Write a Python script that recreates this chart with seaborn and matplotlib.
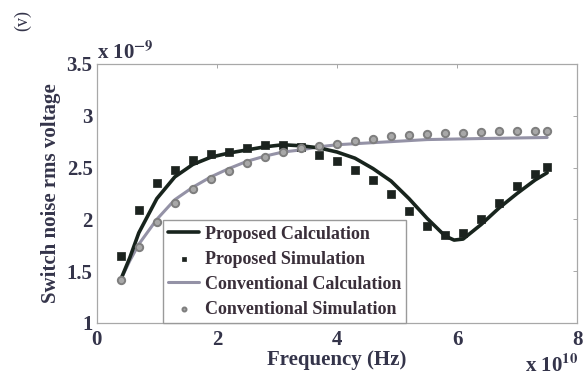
import numpy as np
import pandas as pd
import matplotlib
matplotlib.use("Agg")
import matplotlib.pyplot as plt
import seaborn as sns

# frequency grid of the simulated points (x 1e10 Hz)
freq_sim = [0.4, 0.7, 1.0, 1.3, 1.6, 1.9, 2.2, 2.5, 2.8, 3.1, 3.4, 3.7, 4.0,
            4.3, 4.6, 4.9, 5.2, 5.5, 5.8, 6.1, 6.4, 6.7, 7.0, 7.3, 7.5]
prop_sim = [1.65, 2.09, 2.35, 2.48, 2.57, 2.63, 2.65, 2.69, 2.72, 2.72, 2.70, 2.62, 2.56,
            2.48, 2.375, 2.24, 2.08, 1.94, 1.85, 1.87, 2.00, 2.16, 2.32, 2.44, 2.51]
conv_sim = [1.41, 1.73, 1.97, 2.16, 2.29, 2.39, 2.47, 2.54, 2.60, 2.65, 2.69, 2.71, 2.73,
            2.76, 2.78, 2.80, 2.81, 2.82, 2.83, 2.83, 2.84, 2.85, 2.85, 2.85, 2.85]

# calculated curves (x 1e10 Hz, x 1e-9 V)
freq_prop = [0.4, 0.55, 0.7, 1.0, 1.3, 1.6, 1.9, 2.2, 2.5, 2.8, 3.1, 3.4, 3.7, 4.0,
             4.3, 4.6, 4.9, 5.2, 5.5, 5.8, 5.95, 6.1, 6.4, 6.7, 7.0, 7.3, 7.5]
prop_calc = [1.42, 1.63, 1.87, 2.20, 2.41, 2.53, 2.60, 2.64, 2.67, 2.70, 2.72, 2.71, 2.69, 2.65,
             2.59, 2.49, 2.37, 2.20, 2.01, 1.84, 1.80, 1.81, 1.95, 2.11, 2.25, 2.38, 2.45]
freq_conv = [0.4, 0.55, 0.7, 1.0, 1.3, 1.6, 1.9, 2.2, 2.5, 2.8, 3.1, 3.4, 3.7, 4.0,
             4.6, 5.5, 6.4, 7.5]
conv_calc = [1.42, 1.60, 1.76, 2.00, 2.19, 2.31, 2.41, 2.49, 2.56, 2.61, 2.65, 2.67, 2.70, 2.72,
             2.74, 2.77, 2.78, 2.79]

sns.set_style("white")
plt.rcParams['font.family'] = ['Liberation Serif', 'DejaVu Serif']
plt.rcParams['font.weight'] = 'bold'
plt.rcParams['mathtext.fontset'] = 'stix'
plt.rcParams['mathtext.default'] = 'bf'
txt = '#34344a'

fig = plt.figure(figsize=(5.83, 3.76), dpi=100)
ax = fig.add_axes([0.166, 0.141, 0.824, 0.689])

df_pc = pd.DataFrame({'f': freq_prop, 'v': prop_calc})
df_cc = pd.DataFrame({'f': freq_conv, 'v': conv_calc})
df_ps = pd.DataFrame({'f': freq_sim, 'v': prop_sim})
df_cs = pd.DataFrame({'f': freq_sim, 'v': conv_sim})

sns.lineplot(data=df_pc, x='f', y='v', ax=ax, color='#18241d', lw=2.6,
             label='Proposed Calculation', zorder=3)
sns.scatterplot(data=df_ps, x='f', y='v', ax=ax, marker='s', s=40, color='#1c231f',
                edgecolor='#1c231f', linewidth=0.5, label='Proposed Simulation', zorder=4)
sns.lineplot(data=df_cc, x='f', y='v', ax=ax, color='#9492a6', lw=2.2,
             label='Conventional Calculation', zorder=2)
sns.scatterplot(data=df_cs, x='f', y='v', ax=ax, marker='o', s=28, color='#a8a8a8',
                edgecolor='#7e7e7e', linewidth=1.4, label='Conventional Simulation', zorder=4)

ax.set_xlim(0, 8)
ax.set_ylim(1, 3.5)
ax.set_xticks([0, 2, 4, 6, 8])
ax.set_yticks([1, 1.5, 2, 2.5, 3, 3.5])
ax.set_yticklabels(['1', '1.5', '2', '2.5', '3', '3.5'])
ax.tick_params(direction='in', length=3, width=0.6, top=True, right=True,
               colors='#9a9a9a', labelcolor=txt, labelsize=15)
ax.tick_params(axis='x', pad=5)
ax.tick_params(axis='y', pad=3)
for lab in ax.get_xticklabels() + ax.get_yticklabels():
    lab.set_fontweight('bold')
for sp in ax.spines.values():
    sp.set_color('#a8a8a8')
    sp.set_linewidth(0.9)

ax.set_xlabel('Frequency (Hz)', fontsize=15, fontweight='bold', color=txt, labelpad=0)
ax.set_ylabel('Switch noise rms voltage', fontsize=15, fontweight='bold', color=txt, labelpad=4)

fig.text(0.167, 0.843, r'x 10$^{-9}$', fontsize=15, fontweight='bold', color=txt)
fig.text(0.9, 0.012, r'x 10$^{10}$', fontsize=15, fontweight='bold', color=txt)
fig.text(0.038, 0.945, '(v)', fontsize=13, fontweight='normal', color=txt, rotation=90,
         ha='center', va='center')

leg = ax.legend(loc='lower left', bbox_to_anchor=(0.138, 0.0), frameon=True, fancybox=False,
                framealpha=1, edgecolor='#9a9a9a', borderaxespad=0, handlelength=1.7,
                handletextpad=0.3, labelspacing=0.44, borderpad=0.3, markerscale=0.55,
                prop={'weight': 'bold', 'size': 13})
for t in leg.get_texts():
    t.set_color('#3a2f3a')

fig.savefig('out.png', dpi=100)
